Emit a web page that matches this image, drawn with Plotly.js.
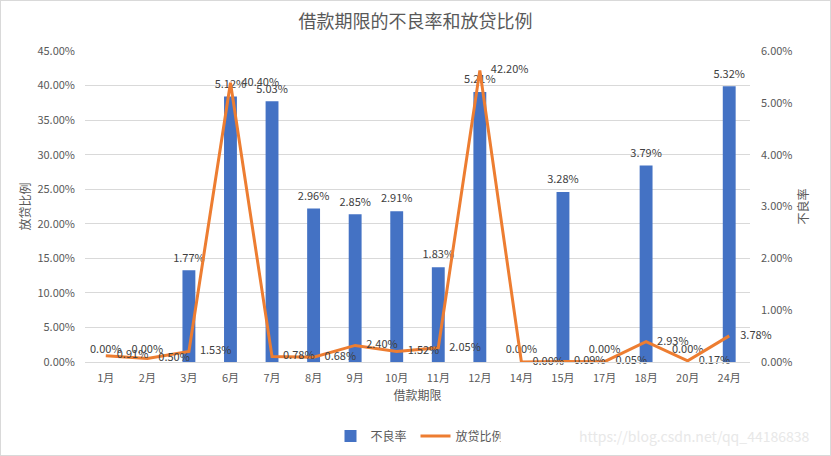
<!DOCTYPE html>
<html>
<head>
<meta charset="utf-8">
<script src="https://cdn.plot.ly/plotly-3.0.1.min.js"></script>
<style>
html,body{margin:0;padding:0;background:#fff;}
#wrap{position:relative;width:831px;height:456px;}
#chart{width:831px;height:456px;}
#frame{position:absolute;left:0;top:0;width:829px;height:454px;border:1px solid #d9d9d9;pointer-events:none;}
</style>
</head>
<body>
<div id="wrap"><div id="chart"></div><div id="frame"></div></div>
<script>
const categories = ['1月','2月','3月','6月','7月','8月','9月','10月','11月','12月','14月','15月','17月','18月','20月','24月'];
const badRate = [0.0000,0.0000,0.0177,0.0512,0.0503,0.0296,0.0285,0.0291,0.0183,0.0521,0.0000,0.0328,0.0000,0.0379,0.0000,0.0532];
const loanShare = [0.0091,0.0050,0.0153,0.4040,0.0078,0.0068,0.0240,0.0152,0.0205,0.4220,0.0000,0.0009,0.0005,0.0293,0.0017,0.0378];

const FONT = '"Noto Sans CJK SC", "Noto Sans", sans-serif';

const traces = [
  {
    type: 'bar', name: '不良率', x: categories, y: badRate,
    yaxis: 'y', marker: {color: '#4472C4'},
    hoverinfo: 'x+y'
  },
  {
    type: 'scatter', mode: 'markers+text', x: categories, y: badRate, yaxis: 'y',
    marker: {size: 8, color: 'rgba(0,0,0,0)'},
    text: badRate.map(v => (v*100).toFixed(2) + '%'),
    textposition: 'top center', showlegend: false, cliponaxis: false,
    textfont: {family: FONT, size: 11, color: '#404040'}, hoverinfo: 'skip'
  },
  {
    type: 'scatter', mode: 'lines+markers+text', name: '放贷比例', x: categories, y: loanShare,
    yaxis: 'y2', line: {color: '#ED7D31', width: 3},
    marker: {size: 16, color: 'rgba(0,0,0,0)'},
    text: loanShare.map(v => (v*100).toFixed(2) + '%'),
    textposition: 'middle right', cliponaxis: false,
    textfont: {family: FONT, size: 11, color: '#404040'}
  }
];

const layout = {
  width: 831, height: 456,
  margin: {l: 85, r: 81, t: 51, b: 94},
  paper_bgcolor: '#fff', plot_bgcolor: 'rgba(0,0,0,0)',
  font: {family: FONT, size: 11, color: '#595959'},
  title: {text: '借款期限的不良率和放贷比例', font: {family: FONT, size: 18, color: '#595959'}, x: 0.5, xanchor: 'center', y: 0.952, yanchor: 'middle'},
  bargap: 0.69,
  showlegend: true,
  legend: {orientation: 'h', xref: 'container', yref: 'container', x: 0.5, xanchor: 'center', y: 0.044, yanchor: 'middle',
           itemwidth: 30, entrywidth: 40, entrywidthmode: 'pixels',
           font: {family: FONT, size: 12, color: '#595959'}, traceorder: 'normal'},
  xaxis: {
    type: 'category', range: [-0.5, 15.5], autorange: false,
    showgrid: false, ticks: '', showline: true, linecolor: '#d9d9d9',
    automargin: false, ticklabelstandoff: 6,
    tickfont: {family: FONT, size: 11, color: '#595959'},
    title: {text: '借款期限', font: {family: FONT, size: 12, color: '#595959'}, standoff: 7}
  },
  yaxis: {
    side: 'right', range: [0, 0.06], dtick: 0.01, tickformat: '.2%',
    showgrid: false, zeroline: false, showline: false, ticks: '',
    automargin: false, ticklabelstandoff: 10,
    tickfont: {family: FONT, size: 11, color: '#595959'},
    title: {text: '不良率', font: {family: FONT, size: 12, color: '#595959'}, standoff: 8}
  },
  yaxis2: {
    overlaying: 'y', side: 'left', range: [0, 0.45], dtick: 0.05, tickformat: '.2%',
    showgrid: true, gridcolor: '#d9d9d9', gridwidth: 1, zeroline: false, showline: false, ticks: '',
    automargin: false, ticklabelstandoff: 9,
    tickfont: {family: FONT, size: 11, color: '#595959'},
    title: {text: '放贷比例', font: {family: FONT, size: 12, color: '#595959'}, standoff: 4}
  },
  annotations: [
    {text: 'https://blog.csdn.net/qq_44186838', xref: 'paper', yref: 'paper', x: 0.917, y: -0.238,
     xanchor: 'center', yanchor: 'middle', showarrow: false,
     font: {family: FONT, size: 14, color: '#e8e8e8'}}
  ]
};

Plotly.newPlot('chart', traces, layout, {displayModeBar: false, staticPlot: true});
</script>
</body>
</html>
